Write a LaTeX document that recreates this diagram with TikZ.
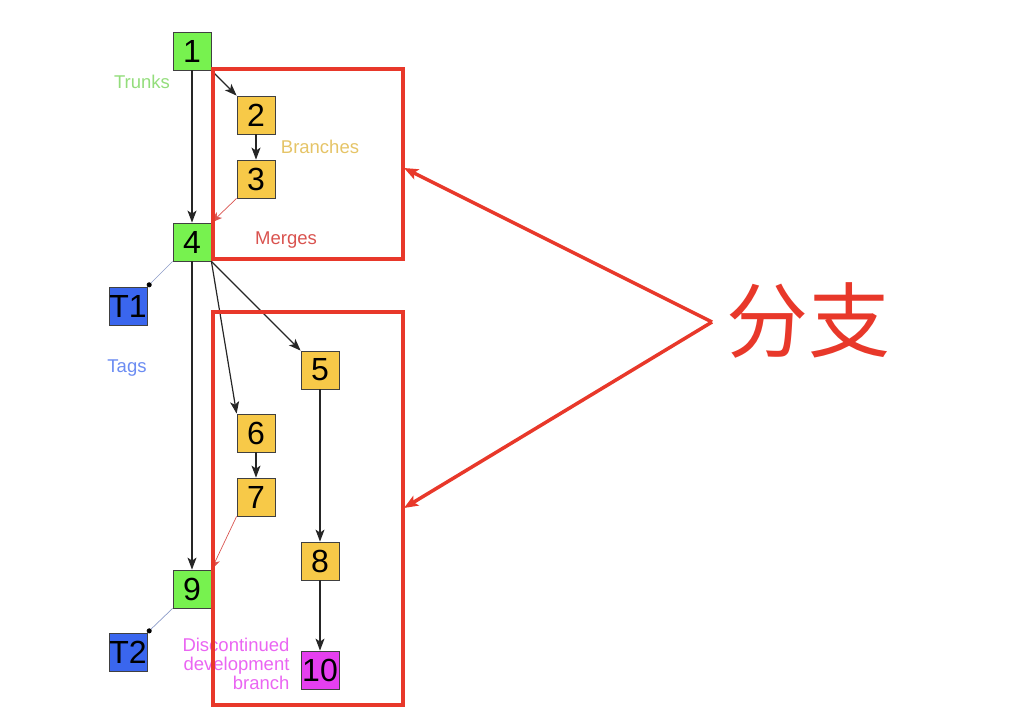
\documentclass[tikz,border=0pt]{standalone}
\usepackage{fontspec}
\setmainfont{Liberation Sans}
\newfontfamily\cjk{Noto Sans CJK SC}
\usetikzlibrary{arrows.meta,positioning}
\definecolor{trunkgreen}{HTML}{77F24F}
\definecolor{branchyellow}{HTML}{F7C948}
\definecolor{tagblue}{HTML}{3A66EE}
\definecolor{deadpink}{HTML}{E53FEF}
\definecolor{markred}{HTML}{E8382A}
\definecolor{mergered}{HTML}{D9534F}
\definecolor{tagline}{HTML}{8C9BC8}
\tikzset{
  commit/.style={draw=black!75, line width=0.8pt, minimum size=38pt, inner sep=0pt,
    font=\fontsize{32}{32}\selectfont},
  trunk/.style={commit, fill=trunkgreen},
  branch/.style={commit, fill=branchyellow},
  tagbox/.style={commit, fill=tagblue},
  dead/.style={commit, fill=deadpink},
  flow/.style={-{Stealth[length=12pt,width=9pt,inset=3pt]}, line width=1.2pt, black!85},
  merge/.style={-{Stealth[length=11pt,width=8pt,inset=3pt]}, line width=0.7pt, mergered},
  tagged/.style={{Circle[length=5pt,color=black]}-, line width=0.7pt, tagline},
  legend/.style={font=\fontsize{18.5}{19}\selectfont},
  framebox/.style={draw=markred, line width=4pt},
  callout/.style={-{Stealth[length=14pt,width=11pt,inset=3pt]}, line width=3.5pt, markred}
}
\begin{document}
\begin{tikzpicture}[x=1pt,y=-1pt]
\useasboundingbox (0,0) rectangle (1024,722);
% commits on the trunk
\node[trunk] (n1) at (192,51) {1};
\node[trunk] (n4) at (192,242) {4};
\node[trunk] (n9) at (192,589) {9};
% branch commits
\node[branch] (n2) at (256,115) {2};
\node[branch] (n3) at (256,179) {3};
\node[branch] (n5) at (320,370) {5};
\node[branch] (n6) at (256,433) {6};
\node[branch] (n7) at (256,497) {7};
\node[branch] (n8) at (320,561) {8};
\node[dead] (n10) at (320,670) {10};
% tags
\node[tagbox] (t1) at (128,306) {T1};
\node[tagbox] (t2) at (128,652) {T2};
% legend texts
\node[legend, text=trunkgreen!85!black!70!white] (lbtrunk) at (142,82) {Trunks};
\node[legend, text=branchyellow!90!black!80!white] (lbbranch) at (320,147) {Branches};
\node[legend, text=mergered] (lbmerge) at (286,240) {Merges};
\node[legend, text=tagblue!75!white] (lbtag) at (127,368) {Tags};
\node[legend, text=deadpink!80!white, align=right, anchor=east] (lbdead) at (293,664)
  {Discontinued\\development\\branch};
% history
\draw[flow] (n1) -- (n4);
\draw[flow] (n4) -- (n9);
\draw[flow] (n1.south east) -- (n2.north west);
\draw[flow] (n2) -- (n3);
\draw[flow] (n4.south east) -- (n5.north west);
\draw[flow] (n4.south east) -- (n6.north west);
\draw[flow] (n6) -- (n7);
\draw[flow] (n5) -- (n8);
\draw[flow] (n8) -- (n10);
% merges back to trunk
\draw[merge] (n3.south west) -- (n4.north east);
\draw[merge] (n7.south west) -- (n9.north east);
% tag links
\draw[tagged] (t1.north east) -- (n4.south west);
\draw[tagged] (t2.north east) -- (n9.south west);
% highlight frames
\draw[framebox] (213,69) rectangle (403,259);
\draw[framebox] (213,312) rectangle (403,705);
\node[text=markred, font=\cjk\fontsize{82}{82}\selectfont] (fenzhi) at (808,320) {分支};
\coordinate (apex) at (712,322);
\draw[callout] (apex) -- (404,168);
\draw[callout] (apex) -- (404,508);
\end{tikzpicture}
\end{document}
